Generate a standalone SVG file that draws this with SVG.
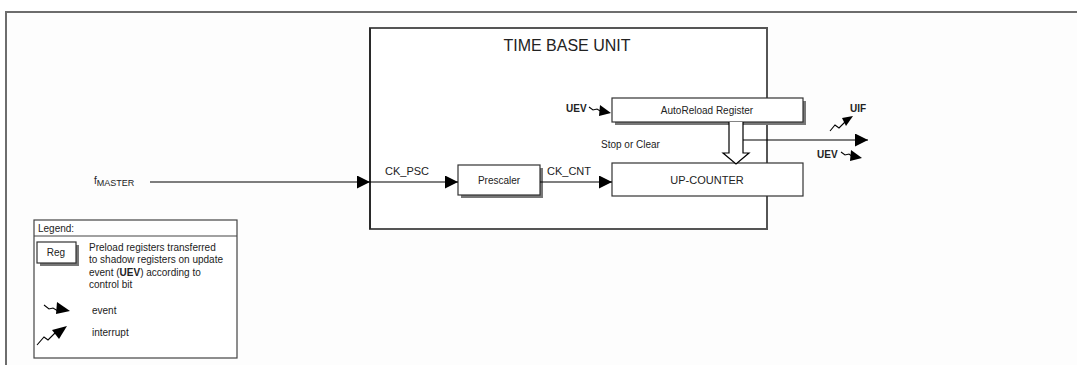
<svg xmlns="http://www.w3.org/2000/svg" width="1077" height="365" viewBox="0 0 1077 365">
<defs>
<marker id="arr" viewBox="0 0 10 10" refX="10" refY="5" markerWidth="13" markerHeight="13" markerUnits="userSpaceOnUse" orient="auto"><path d="M0,0 L10,5 L0,10 z" fill="#000"/></marker>
<style>
text{font-family:"Liberation Sans",Arial,sans-serif;fill:#222}
.lbl{font-size:11px}
.sm{font-size:10px}
.leg{font-size:10px}
.b{font-weight:bold}
.box{fill:#fff;stroke:#333;stroke-width:1.2}
.sh{fill:#777}
.ln{stroke:#000;stroke-width:1.2;fill:none}
.sym{stroke:#000;stroke-width:1.1;fill:none}
</style>
</defs>
<rect x="0" y="0" width="1077" height="365" fill="#fff"/>
<rect x="6" y="12" width="1071" height="353" fill="#fdfdfd"/>
<path d="M6,366 V12 H1078" fill="none" stroke="#6d6d6d" stroke-width="2"/>

<g id="time-base-unit">
<rect x="370" y="28" width="397" height="201" fill="#fff" stroke="#555" stroke-width="2"/>
<text x="567" y="51" font-size="16" text-anchor="middle">TIME BASE UNIT</text>
</g>

<g id="fmaster">
<text x="94" y="184" font-size="10">f<tspan font-size="9" dy="2">MASTER</tspan></text>
</g>

<g id="prescaler">
<rect class="sh" x="461" y="168" width="82" height="30"/>
<rect class="box" x="458" y="165" width="82" height="30"/>
<text class="sm" x="499" y="184" text-anchor="middle">Prescaler</text>
</g>

<g id="autoreload">
<rect class="sh" x="615" y="101" width="191" height="24"/>
<rect class="box" x="612" y="98" width="191" height="24"/>
<text class="sm" x="707" y="114" text-anchor="middle">AutoReload Register</text>
</g>

<g id="upcounter">
<rect class="box" x="612" y="163" width="191" height="33"/>
<text class="lbl" x="707" y="184" text-anchor="middle">UP-COUNTER</text>
</g>

<g id="connectors">
<line class="ln" x1="150" y1="182" x2="370" y2="182" marker-end="url(#arr)"/>
<line class="ln" x1="370" y1="182" x2="458" y2="182" marker-end="url(#arr)"/>
<line class="ln" x1="540" y1="182" x2="612" y2="182" marker-end="url(#arr)"/>
<path d="M729,122 V153 H723 L736,164 L749,153 H743 V122" fill="#fff" stroke="#000" stroke-width="1.2"/>
<line class="ln" x1="743" y1="140" x2="868" y2="140" marker-end="url(#arr)"/>
<line x1="370" y1="28" x2="370" y2="229" stroke="#000" stroke-width="1"/>
</g>

<g id="labels">
<text class="lbl" x="385" y="175">CK_PSC</text>
<text class="lbl" x="547" y="175">CK_CNT</text>
<text class="sm" x="601" y="148">Stop or Clear</text>
<text class="sm b" x="566" y="112">UEV</text>
<text class="sm b" x="850" y="112">UIF</text>
<text class="sm b" x="817" y="158">UEV</text>
</g>

<g id="event-uev-arr">
<polyline class="sym" points="589,107 593,110 597,109 602,112"/>
<polygon points="600,105 611,113 599,116"/>
</g>
<g id="event-uev-out">
<polyline class="sym" points="841,152 845,155 849,154 853,157"/>
<polygon points="851,150 862,158 850,161"/>
</g>
<g id="interrupt-uif">
<polyline class="sym" points="830,131 835,125 839,128 845,122"/>
<polygon points="842,118 853,116 846,126"/>
</g>

<g id="legend">
<rect x="34" y="220" width="203" height="138" fill="#fff" stroke="#444" stroke-width="1.2"/>
<line x1="34" y1="236" x2="237" y2="236" stroke="#444" stroke-width="1.2"/>
<text class="sm" x="38" y="232">Legend:</text>
<rect class="sh" x="40" y="245" width="39" height="21"/>
<rect class="box" x="37" y="242" width="39" height="21"/>
<text class="leg" x="56" y="256" text-anchor="middle">Reg</text>
<text class="leg" x="89" y="251">Preload registers transferred</text>
<text class="leg" x="89" y="263">to shadow registers on update</text>
<text class="leg" x="89" y="276">event (<tspan class="b">UEV</tspan>) according to</text>
<text class="leg" x="89" y="288">control bit</text>
<polyline class="sym" points="44,305 49,309 53,308 58,311"/>
<polygon points="57,302 70,311 56,314"/>
<text class="leg" x="92" y="314">event</text>
<polyline class="sym" points="37,345 44,337 48,340 55,333"/>
<polygon points="52,330 67,326 59,339"/>
<text class="leg" x="92" y="336">interrupt</text>
</g>
</svg>
